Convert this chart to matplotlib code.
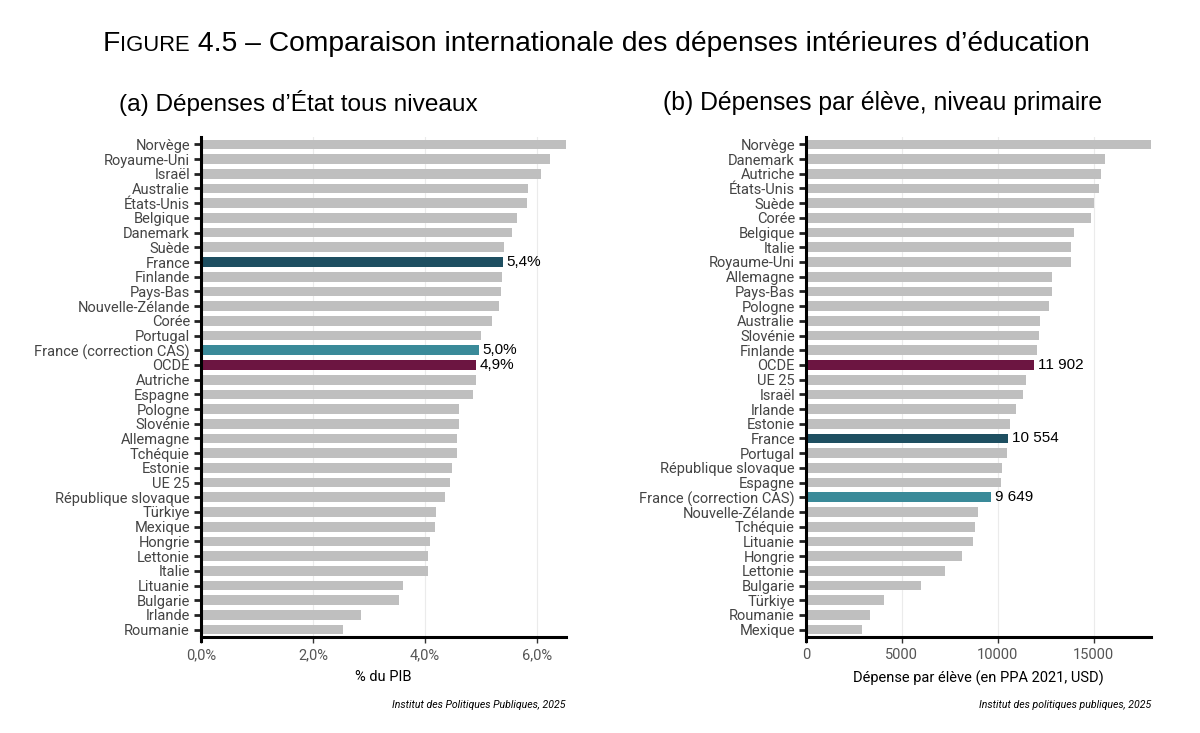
import numpy as np
import matplotlib.pyplot as plt

# (a) dépenses d'État tous niveaux, % du PIB
pays_a = ["Norvège", "Royaume-Uni", "Israël", "Australie", "États-Unis", "Belgique",
          "Danemark", "Suède", "France", "Finlande", "Pays-Bas", "Nouvelle-Zélande",
          "Corée", "Portugal", "France (correction CAS)", "OCDE", "Autriche", "Espagne",
          "Pologne", "Slovénie", "Allemagne", "Tchéquie", "Estonie", "UE 25",
          "République slovaque", "Türkiye", "Mexique", "Hongrie", "Lettonie", "Italie",
          "Lituanie", "Bulgarie", "Irlande", "Roumanie"]
pib_a = [6.54, 6.24, 6.07, 5.84, 5.82, 5.64, 5.55, 5.42, 5.40, 5.38, 5.36, 5.33,
         5.20, 5.01, 4.97, 4.92, 4.92, 4.86, 4.60, 4.60, 4.58, 4.57, 4.49, 4.45,
         4.36, 4.20, 4.18, 4.09, 4.06, 4.05, 3.61, 3.54, 2.86, 2.54]
labels_a = {"France": "5,4%", "France (correction CAS)": "5,0%", "OCDE": "4,9%"}

# (b) dépenses par élève, niveau primaire (PPA 2021, USD)
pays_b = ["Norvège", "Danemark", "Autriche", "États-Unis", "Suède", "Corée", "Belgique",
          "Italie", "Royaume-Uni", "Allemagne", "Pays-Bas", "Pologne", "Australie",
          "Slovénie", "Finlande", "OCDE", "UE 25", "Israël", "Irlande", "Estonie",
          "France", "Portugal", "République slovaque", "Espagne", "France (correction CAS)",
          "Nouvelle-Zélande", "Tchéquie", "Lituanie", "Hongrie", "Lettonie", "Bulgarie",
          "Türkiye", "Roumanie", "Mexique"]
usd_b = [18040, 15600, 15410, 15270, 15020, 14870, 13980, 13810, 13810, 12830, 12810,
         12670, 12200, 12180, 12070, 11902, 11480, 11320, 10950, 10640, 10554, 10470,
         10220, 10190, 9649, 8970, 8830, 8710, 8150, 7250, 5980, 4050, 3350, 2940]
labels_b = {"OCDE": "11 902", "France": "10 554", "France (correction CAS)": "9 649"}

couleurs = {"France": "#1e4f61", "France (correction CAS)": "#3a8a99", "OCDE": "#6c1541"}
gris = "#bfbfbf"

plt.rcParams['font.family'] = ['Roboto', 'DejaVu Sans']

fig = plt.figure(figsize=(12, 7.33), dpi=100)
ax1 = fig.add_axes([201/1200, 1-637/733, 365/1200, 500/733])
ax2 = fig.add_axes([806/1200, 1-637/733, 345/1200, 500/733])


def panneau(ax, pays, vals, labels, xmax, ticks, ticklabels, xlabel, fmt_off):
    y = np.arange(len(pays))
    cols = [couleurs.get(p, gris) for p in pays]
    ax.barh(y, vals, height=0.66, color=cols, zorder=2)
    for p, v, yy in zip(pays, vals, y):
        if p in labels:
            ax.text(v + fmt_off, yy, labels[p], va='center', ha='left', fontsize=11,
                    family='Liberation Sans', color='black')
    ax.set_yticks(y)
    ax.set_yticklabels(pays, fontsize=10.5, color='#444444')
    ax.set_ylim(len(pays) - 0.5, -0.5)
    ax.set_xlim(0, xmax)
    ax.set_xticks(ticks)
    ax.set_xticklabels(ticklabels, fontsize=10.5, color='#555555')
    ax.set_xlabel(xlabel, fontsize=10.5, color='black', labelpad=6)
    ax.grid(axis='x', color='#ebebeb', linewidth=0.8, zorder=0)
    for s in ['top', 'right']:
        ax.spines[s].set_visible(False)
    ax.spines['left'].set_linewidth(2.2)
    ax.spines['bottom'].set_linewidth(2.2)
    ax.spines['left'].set_bounds(len(pays) - 0.5 + 0.25, -0.5)
    ax.tick_params(axis='y', length=5, width=2, color='#222222', pad=3)
    ax.tick_params(axis='x', length=4, width=1, color='#333333', pad=4)


panneau(ax1, pays_a, pib_a, labels_a, 6.52, [0, 2, 4, 6],
        ["0,0%", "2,0%", "4,0%", "6,0%"], "% du PIB", 0.05)
panneau(ax2, pays_b, usd_b, labels_b, 18000, [0, 5000, 10000, 15000],
        ["0", "5000", "10000", "15000"], "Dépense par élève (en PPA 2021, USD)", 200)

ax1.text(1.0, -0.125, "Institut des Politiques Publiques, 2025", transform=ax1.transAxes,
         ha='right', va='top', fontsize=7.6, style='italic')
ax2.text(1.0, -0.125, "Institut des politiques publiques, 2025", transform=ax2.transAxes,
         ha='right', va='top', fontsize=7.6, style='italic')

# titre avec petites capitales
renderer = fig.canvas.get_renderer()
morceaux = [("F", 20.3), ("IGURE", 15.8), (" 4.5 – Comparaison internationale des dépenses intérieures d’éducation", 20.3)]
x0 = 103 / 1200
for txt, sz in morceaux:
    t = fig.text(x0, 1 - 51/733, txt, fontsize=sz, family='Liberation Sans', ha='left', va='baseline')
    bb = t.get_window_extent(renderer)
    x0 += bb.width / 1200

fig.text(298/1200, 1 - 103/733, "(a) Dépenses d’État tous niveaux", fontsize=17.6,
         family='Liberation Sans', ha='center', va='center')
fig.text(883/1200, 1 - 103/733, "(b) Dépenses par élève, niveau primaire", fontsize=17.8,
         family='Liberation Sans', ha='center', va='center')

fig.savefig("out.png", dpi=100)
